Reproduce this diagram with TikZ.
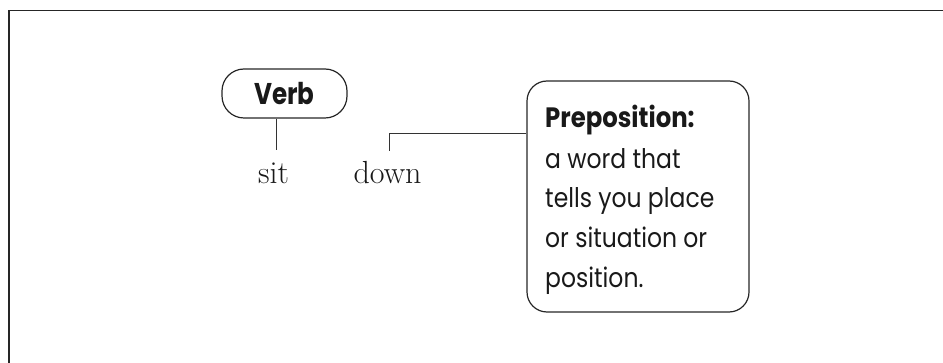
\documentclass[tikz,border=0pt]{standalone}
\usepackage{fontspec}
\newfontfamily\geo{Poppins}[FakeStretch=0.87]
\newfontfamily\geob{Poppins}[FakeStretch=0.82]
\begin{document}
\begin{tikzpicture}[x=1pt,y=-1pt,
  frame/.style={line width=1.5pt, draw=black!85, line cap=rect},
  pill/.style={draw=black!85, line width=1.2pt, rounded corners=22pt, minimum width=125pt, minimum height=49pt, inner sep=0pt, font=\geob\bfseries\fontsize{30}{32}\selectfont, text=black!90},
  defbox/.style={draw=black!85, line width=1.2pt, rounded corners=20pt, minimum width=222pt, minimum height=231pt, inner sep=0pt},
  word/.style={font=\fontsize{32}{36}\selectfont, text=black!90, inner sep=0pt, anchor=base},
  link/.style={draw=black!80, line width=1pt},
  deftext/.style={font=\geo\fontsize{27}{40}\selectfont, align=left, inner sep=0pt, anchor=base west, text=black!90}
]
\useasboundingbox (0,0) rectangle (943,363);
\draw[frame] (9,363) -- (9,10.5) -- (943,10.5);

\node[pill] (verb) at (284.5,93.5) {Verb\hspace{8pt}};
\node[word] (sit) at (273.5,184) {sit};
\node[word] (down) at (387.5,184) {down};

\node[defbox] (prep) at (638,196.5) {};
\node[deftext] (preptext) at (545,288) {{\geo\bfseries\fontsize{28}{40}\selectfont Preposition:}\\a word that\\tells you place\\or situation or\\position.};

\coordinate (vlow) at (276,150);
\coordinate (dlow) at (389,151);
\coordinate (dhigh) at (389,134);
\draw[link] (verb.south -| vlow) -- (vlow);
\draw[link] (dlow) -- (dhigh) -- (prep.west |- dhigh);
\end{tikzpicture}
\end{document}
